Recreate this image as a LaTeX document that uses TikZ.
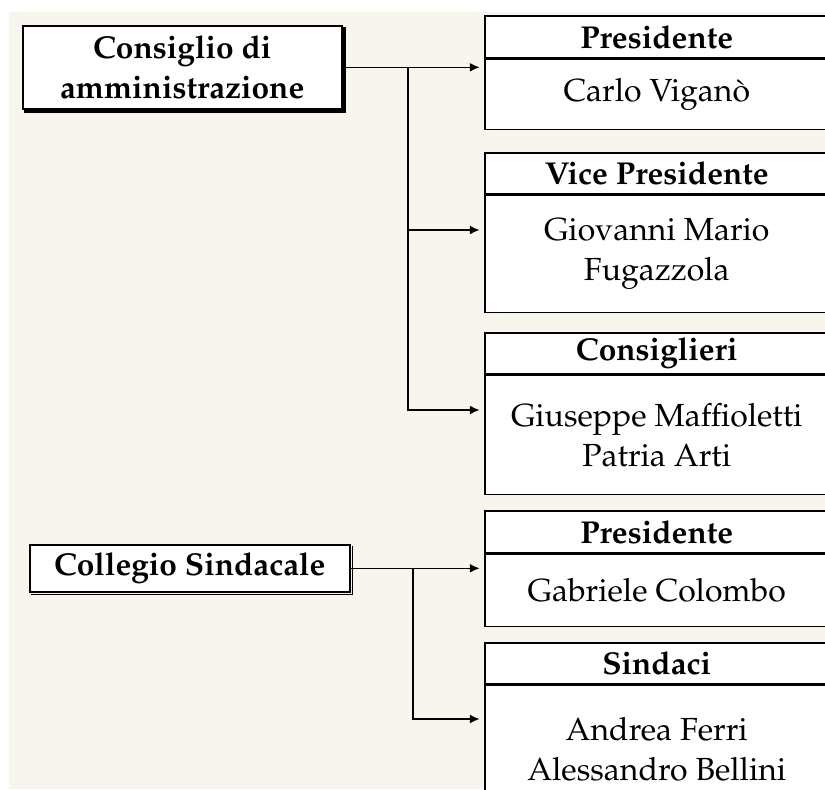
\documentclass[tikz,border=0pt]{standalone}
\usepackage[T1]{fontenc}
\usepackage{mathpazo}
\usepackage{tikz}
\usetikzlibrary{arrows.meta}
\usetikzlibrary{positioning}

\definecolor{carta}{HTML}{F8F5EE}

\tikzset{
	testo/.style={font=\fontsize{18.2}{22.8}\selectfont},
	organo/.style={draw, line width=0.9pt, fill=white, inner sep=0pt, anchor=north west, align=center, font=\fontsize{18}{22.8}\selectfont\bfseries},
	capo/.style={draw, line width=0.9pt, fill=white, inner sep=0pt, minimum width=6.88cm, anchor=north west, font=\fontsize{18}{22.8}\selectfont\bfseries},
	corpo/.style={draw, line width=0.9pt, fill=white, inner sep=0pt, minimum width=6.88cm, align=center, below=0pt of #1, testo},
	freccia/.style={line width=0.8pt, -{Latex[length=5.5pt,width=5pt]}, shorten >=2.5pt}
}

\begin{document}
\begin{tikzpicture}[x=0.02cm, y=-0.02cm]
\useasboundingbox (0,0) rectangle (825,789);
\clip (0,0) rectangle (825,789);

\fill[carta] (9,12) rectangle (825,789);

% consiglio di amministrazione
\node[organo, minimum width=6.38cm, minimum height=1.66cm] (cda) at (22,25) {Consiglio di\\amministrazione};
\draw[line width=1.5pt] ([xshift=1pt, yshift=-1pt]cda.south west) -- ([xshift=1pt, yshift=-1pt]cda.south east) -- ([xshift=1pt, yshift=-1pt]cda.north east);

\node[capo, minimum height=0.84cm] (hA) at (484,15) {Presidente};
\node[corpo=hA, minimum height=1.4cm] (pA) {Carlo Vigan\`o};

\node[capo, minimum height=0.82cm] (hB) at (484,152) {Vice Presidente};
\node[corpo=hB, minimum height=2.34cm] (pB) {Giovanni Mario\\Fugazzola};

\node[capo, minimum height=0.82cm] (hC) at (484,332) {Consiglieri};
\node[corpo=hC, minimum height=2.38cm] (pC) {Giuseppe Maffioletti\\Patria Arti};

% collegio sindacale
\node[organo, minimum width=6.4cm, minimum height=0.94cm] (cs) at (29,544) {Collegio Sindacale};
\draw[line width=0.7pt] ([xshift=1.3pt, yshift=-1.3pt]cs.south west) -- ([xshift=1.3pt, yshift=-1.3pt]cs.south east) -- ([xshift=1.3pt, yshift=-1pt]cs.north east);

\node[capo, minimum height=0.84cm] (hD) at (484,510) {Presidente};
\node[corpo=hD, minimum height=1.44cm] (pD) {Gabriele Colombo};

\node[capo, minimum height=0.82cm] (hE) at (484,642) {Sindaci};
\node[corpo=hE, minimum height=2.54cm] (pE) {Andrea Ferri\\Alessandro Bellini};

\coordinate (nodo1) at (408,66.5);
\coordinate (fB) at (484,230);
\coordinate (fC) at (484,410);

\draw[freccia] (cda.east) -- (cda.east -| pA.west);
\draw[freccia] (nodo1) |- (fB);
\draw[freccia] (nodo1) |- (fC);

\coordinate (nodo2) at (413,567.5);
\coordinate (fE) at (484,719);

\draw[freccia] (cs.east) -- (cs.east -| pD.west);
\draw[freccia] (nodo2) |- (fE);

\end{tikzpicture}
\end{document}
